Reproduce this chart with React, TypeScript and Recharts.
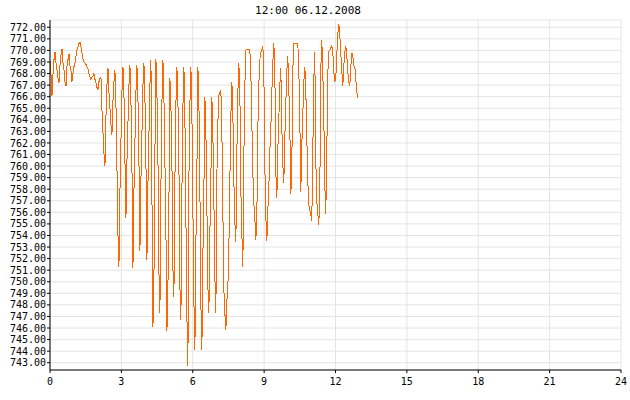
import { LineChart, Line, XAxis, YAxis, CartesianGrid } from "recharts";

// Pressure readings (hPa), one roughly every 2.5 minutes from 00:00
const pressure = [
  769.1, 767.9, 766.1, 767.9, 769.2, 769.9, 768.9, 768.3, 767.6, 767.2,
  768.7, 769.6, 770.1, 768.9, 768.3, 767.3, 766.9, 768.6, 769.2, 769.7,
  768.7, 768.2, 767.3, 768.0, 768.6, 768.9, 769.5, 770.0, 770.3, 770.6,
  770.7, 770.3, 769.8, 769.3, 769.0, 768.9, 768.8, 768.6, 768.4, 768.0,
  767.7, 767.5, 767.7, 767.8, 768.0, 767.5, 767.2, 766.8, 766.6, 767.3,
  767.6, 767.7, 764.9, 763.0, 761.1, 760.0, 764.3, 767.0, 768.5, 766.4,
  765.0, 763.6, 762.7, 765.6, 767.3, 768.3, 765.4, 760.0, 754.2, 751.3,
  757.8, 762.1, 766.4, 768.6, 766.3, 760.5, 755.5, 760.4, 763.7, 767.0,
  768.7, 765.7, 760.0, 751.2, 757.8, 762.1, 766.4, 768.7, 766.0, 760.7,
  752.7, 758.8, 762.8, 766.9, 768.9, 766.0, 760.4, 751.9, 758.4, 762.7,
  767.0, 769.2, 757.6, 746.1, 750.0, 761.1, 769.3, 766.4, 761.1, 751.0,
  747.3, 758.2, 765.4, 769.2, 766.1, 760.4, 754.5, 745.7, 749.4, 756.6,
  767.6, 765.3, 760.5, 751.2, 748.7, 758.7, 765.3, 768.6, 765.7, 760.4,
  749.6, 746.7, 757.6, 765.0, 768.6, 764.3, 755.6, 747.0, 742.7, 758.8,
  765.3, 768.6, 764.6, 756.4, 748.3, 744.1, 753.3, 759.4, 768.6, 765.7,
  758.2, 748.1, 744.1, 752.2, 757.8, 766.0, 763.1, 756.6, 749.6, 747.3,
  754.2, 758.9, 766.0, 762.8, 757.1, 750.4, 747.3, 759.1, 763.7, 766.1,
  766.4, 766.6, 763.1, 756.2, 749.3, 747.3, 745.8, 748.3, 749.6, 752.9,
  758.7, 764.3, 767.3, 764.6, 758.7, 755.2, 753.4, 761.1, 766.3, 768.9,
  766.6, 757.9, 754.2, 751.3, 760.7, 766.9, 770.0, 770.1, 770.1, 770.1,
  770.0, 768.0, 763.7, 759.4, 756.8, 755.5, 753.6, 755.6, 763.3, 767.0,
  769.2, 769.8, 770.1, 770.4, 768.3, 760.0, 755.6, 753.5, 756.2, 758.2,
  761.3, 763.3, 766.3, 769.0, 770.6, 768.3, 759.4, 757.2, 761.4, 764.1,
  767.0, 768.5, 763.4, 760.2, 758.5, 762.5, 765.4, 768.2, 769.5, 766.7,
  763.4, 757.6, 760.0, 768.3, 770.6, 770.6, 770.6, 770.6, 770.6, 768.4,
  764.1, 757.8, 761.8, 764.4, 767.2, 768.6, 766.6, 762.5, 758.7, 756.6,
  756.2, 755.8, 755.3, 761.1, 767.4, 769.9, 760.5, 756.9, 755.9, 754.9,
  757.6, 768.3, 770.9, 768.2, 764.3, 758.4, 755.9, 761.1, 768.0, 769.9,
  770.0, 770.2, 770.4, 769.9, 768.2, 767.3, 767.6, 769.6, 771.4, 772.3,
  771.3, 769.8, 768.3, 766.9, 768.6, 769.8, 770.4, 769.6, 768.2, 767.3,
  766.9, 768.5, 769.8, 769.6, 768.7, 768.6, 767.6, 766.4, 765.9,
];

const STEP_HOURS = 0.042;

const hourTicks = [0, 3, 6, 9, 12, 15, 18, 21, 24];
const pressureTicks = [
  743, 744, 745, 746, 747, 748, 749, 750, 751, 752, 753, 754, 755, 756, 757,
  758, 759, 760, 761, 762, 763, 764, 765, 766, 767, 768, 769, 770, 771, 772,
];

const title = "12:00 06.12.2008";

const data = pressure.map((p, i) => ({ hour: i * STEP_HOURS, p }));

const FONT = "'DejaVu Sans Mono', monospace";

export default function App() {
  return (
    <div style={{ position: "absolute", left: 0, top: 0, width: 630, height: 400, background: "#fff" }}>
      <div
        style={{
          position: "absolute",
          top: 4,
          left: 0,
          width: 616,
          textAlign: "center",
          fontFamily: FONT,
          fontSize: 11,
          color: "#000",
        }}
      >
        {title}
      </div>
      <LineChart width={630} height={400} data={data} margin={{ top: 20, right: 9, bottom: 0, left: 0 }}>
        <CartesianGrid stroke="#e4e4e4" />
        <XAxis
          dataKey="hour"
          type="number"
          domain={[0, 24]}
          ticks={hourTicks}
          interval={0}
          height={30}
          tickSize={3}
          tickMargin={5}
          stroke="#000"
          tick={{ fill: "#000", fontSize: 10, fontFamily: FONT }}
        />
        <YAxis
          type="number"
          domain={[742.37, 772.63]}
          ticks={pressureTicks}
          interval={0}
          width={50}
          tickSize={3}
          tickMargin={1}
          stroke="#000"
          tickFormatter={(v: number) => v.toFixed(2)}
          tick={{ fill: "#000", fontSize: 10, fontFamily: FONT }}
        />
        <Line
          dataKey="p"
          type="linear"
          stroke="#ff6600"
          strokeWidth={1}
          dot={false}
          shapeRendering="crispEdges"
          isAnimationActive={false}
        />
      </LineChart>
    </div>
  );
}
